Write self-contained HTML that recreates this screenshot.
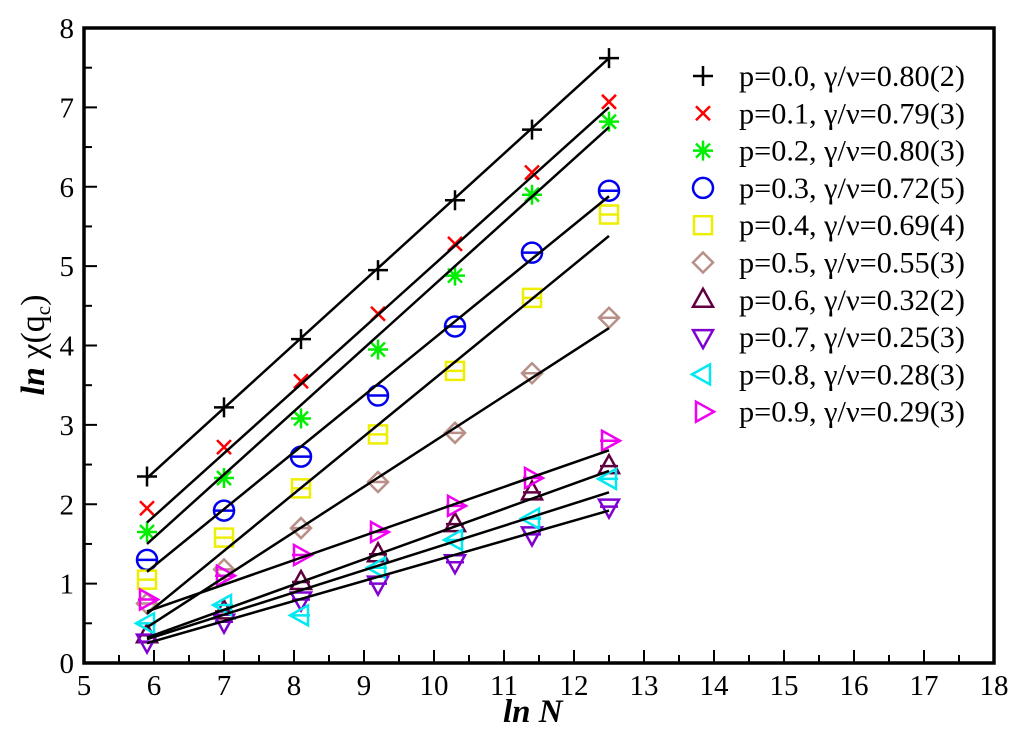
<!DOCTYPE html>
<html><head><meta charset="utf-8"><style>
body{margin:0;background:#fff}
svg text{font-family:"Liberation Serif",serif}
</style></head><body>
<svg id="chart" width="1024" height="744" viewBox="0 0 1024 744" xmlns="http://www.w3.org/2000/svg">
<g id="marks"></g>
<rect x="84" y="28" width="910" height="635" fill="none" stroke="#000" stroke-width="3.5"/>
<g id="axes"></g>
<g id="legend"></g>
<text x="503" y="722" font-size="33" font-weight="bold" font-style="italic">ln N</text>
<text transform="translate(44,345) rotate(-90)" text-anchor="middle" font-size="34"><tspan font-weight="bold" font-style="italic">ln</tspan> χ(q<tspan font-size="21" dy="6">c</tspan><tspan dy="-6">)</tspan></text>
</svg>
<script>
const xVals=[5.9,7.0,8.1,9.2,10.3,11.4,12.5];
const s0=[2.35,3.22,4.08,4.95,5.83,6.72,7.62];
const s1=[1.95,2.72,3.55,4.40,5.28,6.18,7.07];
const s2=[1.65,2.33,3.08,3.95,4.88,5.90,6.82];
const s3=[1.30,1.92,2.60,3.37,4.24,5.17,5.95];
const s4=[1.05,1.58,2.20,2.88,3.68,4.60,5.65];
const s5=[0.75,1.18,1.70,2.28,2.90,3.65,4.35];
const s6=[0.35,0.65,1.02,1.37,1.75,2.15,2.48];
const s7=[0.27,0.52,0.80,1.00,1.27,1.62,1.97];
const s8=[0.50,0.73,0.60,1.20,1.55,1.82,2.32];
const s9=[0.80,1.10,1.36,1.65,1.98,2.33,2.80];
const fitStart=[2.33,1.77,1.50,1.15,0.62,0.45,0.32,0.25,0.30,0.65];
const fitEnd=[7.62,7.00,6.75,5.88,5.38,4.22,2.42,1.92,2.15,2.68];
const labels=["p=0.0, γ/ν=0.80(2)","p=0.1, γ/ν=0.79(3)","p=0.2, γ/ν=0.80(3)","p=0.3, γ/ν=0.72(5)","p=0.4, γ/ν=0.69(4)","p=0.5, γ/ν=0.55(3)","p=0.6, γ/ν=0.32(2)","p=0.7, γ/ν=0.25(3)","p=0.8, γ/ν=0.28(3)","p=0.9, γ/ν=0.29(3)"];
const xTicks=[5,6,7,8,9,10,11,12,13,14,15,16,17,18];
const yTicks=[0,1,2,3,4,5,6,7,8];
const series=[s0,s1,s2,s3,s4,s5,s6,s7,s8,s9];
const colors=["#000","#f00","#0e0","#00e","#ee0","#b89088","#600040","#8000d0","#00e8f0","#f000f0"];
const shapes=["plus","x","star","circle","square","diamond","tri-up","tri-down","tri-left","tri-right"];
const X=v=>84+(v-5)*70, Y=v=>663-v*79.375;
const NS="http://www.w3.org/2000/svg";
function mk(tag,attrs,parent){const e=document.createElementNS(NS,tag);for(const k in attrs)e.setAttribute(k,attrs[k]);parent.appendChild(e);return e;}
function marker(shape,cx,cy,c,parent,bar){
  const g=mk('g',{stroke:c,fill:'none','stroke-width':2.5},parent);
  const r=10;
  if(shape==='plus'){mk('path',{d:`M${cx-r} ${cy}H${cx+r}M${cx} ${cy-r}V${cy+r}`},g);}
  else if(shape==='x'){const d=7;mk('path',{d:`M${cx-d} ${cy-d}L${cx+d} ${cy+d}M${cx-d} ${cy+d}L${cx+d} ${cy-d}`},g);}
  else if(shape==='star'){const d=7;mk('path',{d:`M${cx-r} ${cy}H${cx+r}M${cx} ${cy-r}V${cy+r}M${cx-d} ${cy-d}L${cx+d} ${cy+d}M${cx-d} ${cy+d}L${cx+d} ${cy-d}`},g);}
  else if(shape==='circle'){mk('circle',{cx,cy,r:10},g);}
  else if(shape==='square'){mk('rect',{x:cx-9,y:cy-9,width:18,height:18},g);}
  else if(shape==='diamond'){mk('path',{d:`M${cx} ${cy-10}L${cx+10} ${cy}L${cx} ${cy+10}L${cx-10} ${cy}Z`},g);}
  else if(shape==='tri-up'){mk('path',{d:`M${cx} ${cy-11}L${cx+10} ${cy+7}L${cx-10} ${cy+7}Z`},g);}
  else if(shape==='tri-down'){mk('path',{d:`M${cx} ${cy+11}L${cx+10} ${cy-7}L${cx-10} ${cy-7}Z`},g);}
  else if(shape==='tri-left'){mk('path',{d:`M${cx-11} ${cy}L${cx+7} ${cy-10}L${cx+7} ${cy+10}Z`},g);}
  else {mk('path',{d:`M${cx+11} ${cy}L${cx-7} ${cy-10}L${cx-7} ${cy+10}Z`},g);}
  if(bar && shape!=='plus' && shape!=='x' && shape!=='star') mk('path',{d:`M${cx-9} ${cy}H${cx+9}`},g);
  return g;
}
const marks=document.getElementById('marks');
series.forEach((s,i)=>{
  const sg=mk('g',{},marks);
  
  
  s.forEach((v,j)=>{
    const m=marker(shapes[i],X(xVals[j]),Y(v),colors[i],sg,true);
    
    
  });
});
series.forEach((s,i)=>{
  const l=mk('line',{x1:X(xVals[0]),y1:Y(fitStart[i]),x2:X(xVals[xVals.length-1]),y2:Y(fitEnd[i]),stroke:'#000','stroke-width':2.5},marks);
  
  
});
const axes=document.getElementById('axes');
xTicks.forEach((t,i)=>{
  mk('line',{x1:X(t),x2:X(t),y1:663,y2:650,stroke:'#000','stroke-width':2},axes);
  if(i<xTicks.length-1)mk('line',{x1:X(t+0.5),x2:X(t+0.5),y1:663,y2:655,stroke:'#000','stroke-width':2},axes);
  const tx=mk('text',{x:X(t),y:695,'font-size':29,'text-anchor':'middle'},axes);tx.textContent=t;
  
  
});
yTicks.forEach((t,i)=>{
  mk('line',{x1:84,x2:97,y1:Y(t),y2:Y(t),stroke:'#000','stroke-width':2},axes);
  if(i<yTicks.length-1)mk('line',{x1:84,x2:92,y1:Y(t+0.5),y2:Y(t+0.5),stroke:'#000','stroke-width':2},axes);
  const tx=mk('text',{x:74,y:Y(t)+10,'font-size':29,'text-anchor':'end'},axes);tx.textContent=t;
  
  
});
const lg=document.getElementById('legend');
labels.forEach((lab,i)=>{
  const y=76+i*37.3;
  const e=mk('g',{},lg);
  
  
  marker(shapes[i],703,y,colors[i],e,false);
  const tx=mk('text',{x:739,y:y+10,'font-size':29.5,textLength:226,lengthAdjust:'spacingAndGlyphs'},e);tx.textContent=lab;
});
</script>
</body></html>
